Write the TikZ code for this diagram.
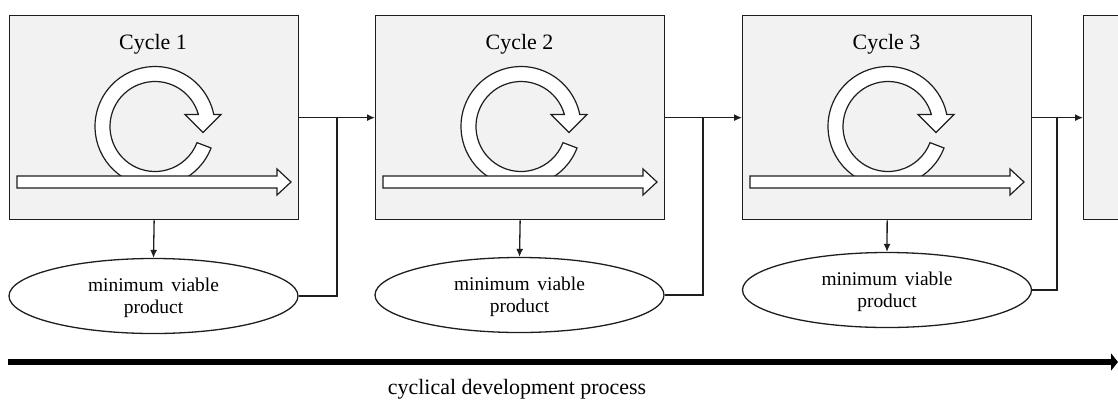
\documentclass[tikz,border=0pt]{standalone}
\usepackage{fontspec}
\setmainfont{Liberation Serif}
\usetikzlibrary{shapes.geometric,arrows.meta}
\definecolor{boxgray}{HTML}{F2F2F2}
\definecolor{ink}{HTML}{1E1E1E}

\tikzset{
  % hollow circular arrow sitting on a hollow straight arrow
  cyclemark/.pic={
    \begin{scope}[shift={(146,111.5)}, yscale=-1]
      \path[hollow] (-21:60) arc[start angle=-21, end angle=-348.4, radius=60]
        -- (66,12) -- (48,-6) -- (30,12) -- (15.5:45)
        arc[start angle=15.5, end angle=339, radius=45] -- cycle;
    \end{scope}
    \path[hollow] (8,161) -- (268,161) -- (268,154) -- (282,167) -- (268,180)
      -- (268,173) -- (8,173) -- cycle;
  }
}

\begin{document}
\begin{tikzpicture}[x=1bp, y=-1bp,
  stage/.style={draw=ink, line width=1.3bp, fill=boxgray, minimum width=289bp,
    minimum height=204bp, inner sep=0pt, anchor=north west},
  mvp/.style={ellipse, draw=ink, line width=1.3bp, fill=white, minimum width=289bp,
    minimum height=75bp, inner sep=0pt, align=center, text depth=0pt,
    font=\fontsize{19.5}{22}\selectfont},
  link/.style={draw=ink, line width=1.3bp},
  arr/.style={-{Latex[length=8bp,width=7bp]}},
  hollow/.style={draw=ink, line width=1.2bp, fill=white, line join=miter},
  cyclelabel/.style={font=\fontsize{22}{26}\selectfont, anchor=base, inner sep=0pt}
]
\clip (0,0) rectangle (1118,403);

% stage boxes
\node[stage] (b1) at (9,15) {};
\node[stage] (b2) at (375,15) {};
\node[stage] (b3) at (742,15) {};
\node[stage, minimum width=100bp] (b4) at (1083,15) {};

\pic at (b1.north west) {cyclemark};
\pic at (b2.north west) {cyclemark};
\pic at (b3.north west) {cyclemark};

\node[cyclelabel] (t1) at (153,49.5) {Cycle 1};
\node[cyclelabel] (t2) at (519.5,49.5) {Cycle 2};
\node[cyclelabel] (t3) at (886.5,49.5) {Cycle 3};

% products
\node[mvp] (m1) at (153.5,296) {minimum\hspace{.4em}viable\\product};
\node[mvp] (m2) at (519.5,295) {minimum\hspace{.4em}viable\\product};
\node[mvp] (m3) at (887,290) {minimum\hspace{.4em}viable\\product};

% junction points between stages
\coordinate (j1) at (337,117);
\coordinate (j2) at (703,117);
\coordinate (j3) at (1057,117);

\draw[link,arr] (b1.south) -- (m1.north);
\draw[link,arr] (b2.south) -- (m2.north);
\draw[link,arr] (b3.south) -- (m3.north);

\draw[link,arr] (b1.east) -- (b2.west);
\draw[link,arr] (b2.east) -- (b3.west);
\draw[link,arr] (b3.east) -- (b4.west);

\draw[link] (m1.east) -| (j1);
\draw[link] (m2.east) -| (j2);
\draw[link] (m3.east) -| (j3);

% time axis
\coordinate (s0) at (8,362);
\coordinate (s1) at (1118,362);
\draw[draw=black, line width=6bp, -{Triangle[length=7bp,width=17bp]}] (s0) -- (s1);
\node[font=\fontsize{22}{26}\selectfont, anchor=base, inner sep=0pt] (cap) at (517,394)
  {cyclical development process};
\end{tikzpicture}
\end{document}
